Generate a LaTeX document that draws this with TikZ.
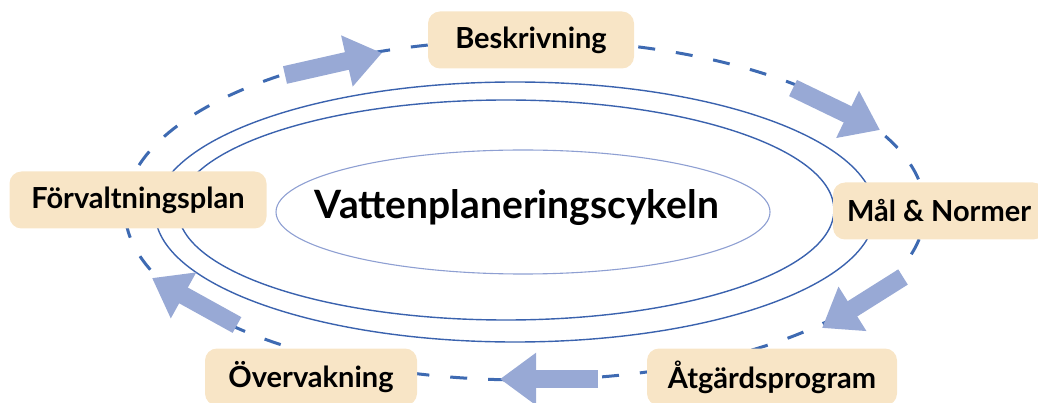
\documentclass[tikz,border=0pt]{standalone}
\usepackage{fontspec}
\setmainfont{Lato}
\usetikzlibrary{arrows.meta}

\definecolor{stepfill}{HTML}{F8E5C6}
\definecolor{cycleblue}{HTML}{3E6AB2}
\definecolor{ringblue}{HTML}{3A62AE}
\definecolor{ringlight}{HTML}{8E9FD2}
\definecolor{flowblue}{HTML}{98A9D5}

\begin{document}
\begin{tikzpicture}[ x                 = 1pt
                     , y                 = -1pt
                     , font              = \bfseries\fontsize{29}{34}\selectfont
                     , every node/.style = { rectangle
                                           , rounded corners = 12pt
                                           , align           = center
                                           , inner sep       = 0pt
                                           }
                     ]

  %%
  %% Node and line types
  %%
  \tikzset{ stepbox/.style={fill=stepfill, minimum height=57pt}
          , title/.style={font=\bfseries\fontsize{39}{44}\selectfont}
          , ring/.style={ringblue, line width=1.4pt}
          , innerring/.style={ringlight, line width=1.1pt}
          , cycle/.style={cycleblue, line width=3pt, dash pattern=on 17pt off 21pt}
          , flow/.style={flowblue, line width=18pt, -{Triangle[width=50pt, length=36pt]}}
          }

  \clip (0,0) rectangle (1038,403);

  %%
  %% Rings
  %%
  \draw[cycle, dash phase=8pt] (525,210) ellipse [x radius=400, y radius=170];
  \draw[ring] (515,212) ellipse [x radius=360, y radius=130];
  \draw[ring] (506,210) ellipse [x radius=328, y radius=110];
  \draw[innerring] (523,212) ellipse [x radius=247, y radius=62];

  %%
  %% Nodes
  %%
  \node (cyk) [title] at (517,208) {Vattenplaneringscykeln};

  \node (bes) [stepbox, minimum width=206pt] at (531,40)  {Beskrivning};
  \node (mal) [stepbox, minimum width=212pt] at (939,211) {Mål \& Normer};
  \node (atg) [stepbox, minimum width=250pt] at (772,377) {Åtgärdsprogram};
  \node (ove) [stepbox, minimum width=212pt] at (311,377) {Övervakning};
  \node (for) [stepbox, minimum width=257pt] at (138,200) {Förvaltningsplan};

  %%
  %% Arrows between the steps
  %%
  \coordinate (f1a) at (285,75);  \coordinate (f1b) at (382,53);
  \coordinate (f2a) at (793,88);  \coordinate (f2b) at (880,130);
  \coordinate (f3a) at (903,277); \coordinate (f3b) at (822,328);
  \coordinate (f4a) at (598,379); \coordinate (f4b) at (500,379);
  \coordinate (f5a) at (237,325); \coordinate (f5b) at (152,278);

  \draw[flow] (f1a) -- (f1b);
  \draw[flow] (f2a) -- (f2b);
  \draw[flow] (f3a) -- (f3b);
  \draw[flow] (f4a) -- (f4b);
  \draw[flow] (f5a) -- (f5b);

\end{tikzpicture}
\end{document}
